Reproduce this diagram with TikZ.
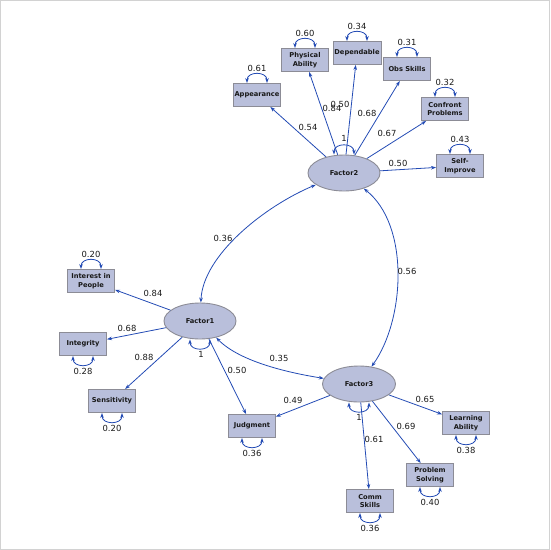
\documentclass[tikz,border=0pt]{standalone}
\usepackage{fontspec}
\setmainfont{DejaVu Sans}
\usetikzlibrary{arrows.meta,shapes.geometric}
\definecolor{edgec}{RGB}{35,75,180}
\definecolor{nodefill}{RGB}{185,191,219}
\definecolor{nodedraw}{RGB}{140,140,150}
\definecolor{framec}{RGB}{210,210,210}
\definecolor{txt}{RGB}{25,25,25}
\tikzset{
  obsbox/.style={draw=nodedraw, line width=0.9pt, fill=nodefill, minimum width=47pt, minimum height=23pt, inner sep=0pt, align=center, font=\fontsize{6.7}{8.8}\selectfont\bfseries, text=txt},
  latent/.style={ellipse, draw=nodedraw, line width=0.9pt, fill=nodefill, minimum width=72pt, minimum height=36pt, inner sep=0pt, font=\fontsize{6.7}{8.8}\selectfont\bfseries, text=txt},
  num/.style={font=\fontsize{8.4}{10}\selectfont, text=txt, inner sep=0.5pt},
  path1/.style={draw=edgec, line width=0.8pt, -{Stealth[length=5pt,width=3.6pt]}},
  dbl/.style={draw=edgec, line width=0.8pt, {Stealth[length=5pt,width=3.6pt]}-{Stealth[length=5pt,width=3.6pt]}},
}
\begin{document}
\begin{tikzpicture}[x=1pt,y=-1pt]
\useasboundingbox (0,0) rectangle (550,550);
\draw[framec, line width=1.2pt] (0.6,0.6) rectangle (549.4,549.4);

% latent factors
\node[latent] (F2) at (344,173) {Factor2};
\node[latent] (F1) at (200,321) {Factor1};
\node[latent, minimum width=73pt] (F3) at (359,384) {Factor3};

% indicators
\node[obsbox] (app) at (257,95) {Appearance};
\node[obsbox] (phy) at (305,60) {Physical\\Ability};
\node[obsbox, minimum width=48pt] (dep) at (357,53) {Dependable};
\node[obsbox] (obs) at (407,69) {Obs Skills};
\node[obsbox] (con) at (445,109) {Confront\\Problems};
\node[obsbox] (sel) at (460,166) {Self-\\Improve};
\node[obsbox] (int) at (91,281) {Interest in\\People};
\node[obsbox] (itg) at (83,344) {Integrity};
\node[obsbox] (sen) at (112,401) {Sensitivity};
\node[obsbox] (jud) at (252,426) {Judgment};
\node[obsbox] (lea) at (466,423) {Learning\\Ability};
\node[obsbox] (pro) at (430,475) {Problem\\Solving};
\node[obsbox] (com) at (370,501) {Comm\\Skills};

% loadings
\draw[path1] (F2) -- (app);
\draw[path1] (F2) -- (phy);
\draw[path1] (F2) -- (dep);
\draw[path1] (F2) -- (obs);
\draw[path1] (F2) -- (con);
\draw[path1] (F2) -- (sel);
\draw[path1] (F1) -- (int);
\draw[path1] (F1) -- (itg);
\draw[path1] (F1) -- (sen);
\draw[path1] (F1) -- (jud);
\draw[path1] (F3) -- (jud);
\draw[path1] (F3) -- (com);
\draw[path1] (F3) -- (pro);
\draw[path1] (F3) -- (lea);

% covariances
\draw[dbl] (F2) .. controls (265,206) and (203,255) .. (F1);
\draw[dbl] (F2) .. controls (410,225) and (405,320) .. (F3);
\draw[dbl] (F1) .. controls (240,362) and (290,373) .. (F3);

% loading labels
\node[num] (l1) at (308,127) {0.54};
\node[num] (l2) at (332,108) {0.84};
\node[num] (l3) at (340,104) {0.50};
\node[num] (l4) at (367,113) {0.68};
\node[num] (l5) at (387,133) {0.67};
\node[num] (l6) at (398,163) {0.50};
\node[num] (l7) at (153,293) {0.84};
\node[num] (l8) at (127,328) {0.68};
\node[num] (l9) at (144,357) {0.88};
\node[num] (l10) at (237,370) {0.50};
\node[num] (l11) at (293,400) {0.49};
\node[num] (l12) at (425,399) {0.65};
\node[num] (l13) at (406,426) {0.69};
\node[num] (l14) at (374,439) {0.61};
\node[num] (c1) at (223,238) {0.36};
\node[num] (c2) at (407,271) {0.56};
\node[num] (c3) at (279,358) {0.35};

% error variance loops (top)
\foreach \n/\v in {app/0.61, phy/0.60, dep/0.34, obs/0.31, con/0.32, sel/0.43, int/0.20}{
  \draw[dbl] ([xshift=-10pt]\n.north) .. controls +(0,-12) and +(0,-12) .. ([xshift=10pt]\n.north);
  \node[num] (e\n) at ([yshift=15pt]\n.north) {\v};
}
% error variance loops (bottom)
\foreach \n/\v in {itg/0.28, sen/0.20, jud/0.36, lea/0.38, pro/0.40, com/0.36}{
  \draw[dbl] ([xshift=-10pt]\n.south) .. controls +(0,12) and +(0,12) .. ([xshift=10pt]\n.south);
  \node[num] (e\n) at ([yshift=-15pt]\n.south) {\v};
}

% factor variances
\draw[dbl] ([xshift=-10pt]F2.north) .. controls +(0,-12) and +(0,-12) .. ([xshift=10pt]F2.north);
\node[num] (v2) at ([yshift=16pt]F2.north) {1};
\draw[dbl] ([xshift=-10pt]F1.south) .. controls +(0,12) and +(0,12) .. ([xshift=10pt]F1.south);
\node[num] (v1) at ([xshift=1pt,yshift=-15pt]F1.south) {1};
\draw[dbl] ([xshift=-10pt]F3.south) .. controls +(0,12) and +(0,12) .. ([xshift=10pt]F3.south);
\node[num] (v3) at ([yshift=-15pt]F3.south) {1};
\end{tikzpicture}
\end{document}
